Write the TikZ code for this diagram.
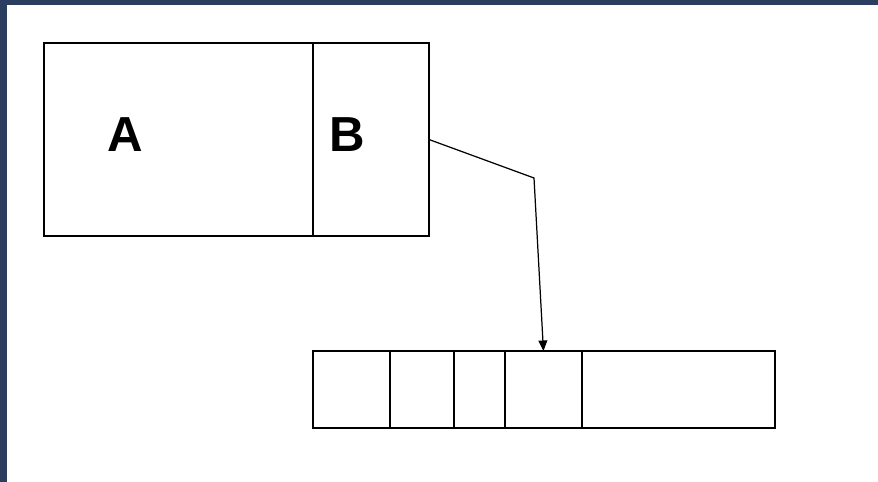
\documentclass[tikz,border=0pt]{standalone}
\usepackage{fontspec}
\setmainfont{Liberation Sans}
\usepackage{tikz}
\usetikzlibrary{arrows.meta,positioning}

\definecolor{framecol}{RGB}{44,62,96}

\begin{document}
\begin{tikzpicture}[
        x=0.02cm, y=-0.02cm,
        cell/.style={rectangle, draw=black, line width=0.8pt, inner sep=0pt, outer sep=0pt, minimum height=1.54cm},
        bigcell/.style={rectangle, draw=black, line width=0.8pt, inner sep=0pt, outer sep=0pt, minimum height=3.86cm},
        lbl/.style={inner sep=0pt, font=\fontsize{28}{30}\selectfont\bfseries},
        conn/.style={draw=black, line width=0.7pt, -{Triangle[length=6pt, width=5pt]}}
    ]
        \useasboundingbox (0,0) rectangle (878,482);
        % Frame
        \fill[framecol] (0,0) rectangle (878,5);
        \fill[framecol] (0,0) rectangle (7,482);

        % Nodes
        \node[bigcell, minimum width=5.38cm] (cellA) at (178.5,139.5) {};
        \node[bigcell, minimum width=2.32cm, right=0pt of cellA] (cellB) {};
        \node[lbl] (txtA) at (125,135) {A};
        \node[lbl] (txtB) at (347,135) {B};

        \node[cell, minimum width=1.54cm] (c1) at (351.5,389.5) {};
        \node[cell, minimum width=1.28cm, right=0pt of c1] (c2) {};
        \node[cell, minimum width=1.02cm, right=0pt of c2] (c3) {};
        \node[cell, minimum width=1.54cm, right=0pt of c3] (c4) {};
        \node[cell, minimum width=3.86cm, right=0pt of c4] (c5) {};

        \coordinate (bend) at (534,178);

        % Connections
        \draw[conn] (cellB.east) -- (bend) -- (c4.north);

\end{tikzpicture}
\end{document}
